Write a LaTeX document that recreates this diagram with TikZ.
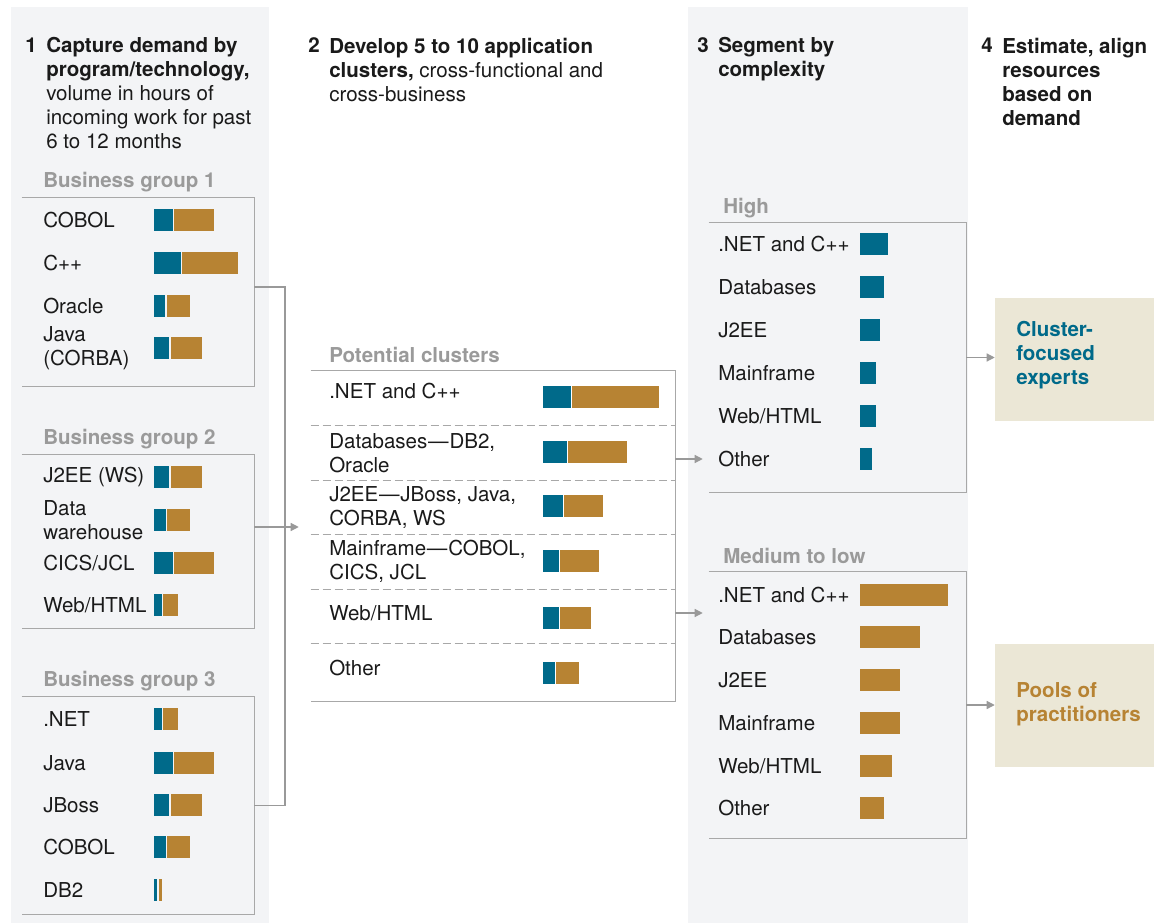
\documentclass[tikz,border=0pt]{standalone}
\usepackage{fontspec}
\setmainfont{TeX Gyre Heros}
\usetikzlibrary{arrows.meta}
\usetikzlibrary{fit}

\definecolor{panelgrey}{HTML}{F3F4F6}
\definecolor{framegrey}{HTML}{A8A8A8}
\definecolor{linkgrey}{HTML}{999999}
\definecolor{labelgrey}{HTML}{9A9A9A}
\definecolor{inkblack}{HTML}{1A1A1A}
\definecolor{demandblue}{HTML}{006A8A}
\definecolor{demandgold}{HTML}{B78333}
\definecolor{notebeige}{HTML}{EBE7D6}

\newcommand\basefont{\fontsize{15.4}{18}\selectfont}

\tikzset{
    heading/.style={anchor=north west, inner sep=0pt, align=left},
    grouplabel/.style={anchor=west, inner sep=0pt, yshift=-1.5pt, text=labelgrey, font=\basefont\bfseries},
    item/.style={anchor=west, inner sep=0pt, align=left},
    outcome/.style={anchor=west, inner sep=0pt, align=left, font=\basefont\bfseries},
    frame/.style={draw=framegrey, line width=0.9pt},
    divider/.style={draw=framegrey, line width=0.75pt, dash pattern=on 6pt off 3pt},
    link/.style={draw=linkgrey, line width=0.9pt},
    flow/.style={link, -{Triangle[length=6pt, width=6pt]}},
}

% fit node with top, right and bottom edges drawn
\newcommand\openframe[3]{%
    \path #2 coordinate (#1-nw) #3 coordinate (#1-se);
    \node[fit=(#1-nw)(#1-se), inner sep=0pt] (#1) {};
    \draw[frame] (#1.north west) -- (#1.north east) -- (#1.south east) -- (#1.south west);
}

% blue share, thin gap, gold share
\newcommand\splitbar[4]{%
    \fill[demandblue] (#1,#2-\barh) rectangle (#3,#2+\barh);
    \fill[demandgold] (#3+1.4,#2-\barh) rectangle (#4,#2+\barh);
}

\newcommand\dashsep{\kern0.6pt\textemdash\kern0.6pt}

\begin{document}
\begin{tikzpicture}[x=0.75pt, y=-0.75pt, every node/.style={font=\basefont, text=inkblack}]

    \def\barh{10.8}

    \useasboundingbox (0,0) rectangle (1167,923);

    % shaded columns
    \fill[panelgrey] (11,7) rectangle (269,923);
    \fill[panelgrey] (688,7) rectangle (968,923);

    % step headings
    \node[heading] (num1) at (25,37.5) {\textbf{1}};
    \node[heading] (step1) at (46,37.5) {\textbf{Capture demand by}\\\textbf{program/technology,}\\volume in hours of\\incoming work for past\\6 to 12 months};
    \node[heading] (num2) at (308,37.5) {\textbf{2}};
    \node[heading] (step2) at (329,37.5) {\textbf{Develop 5 to 10 application}\\\textbf{clusters,} cross-functional and\\cross-business};
    \node[heading] (num3) at (697,37.5) {\textbf{3}};
    \node[heading] (step3) at (718,37.5) {\textbf{Segment by}\\\textbf{complexity}};
    \node[heading] (num4) at (981,37.5) {\textbf{4}};
    \node[heading] (step4) at (1002,37.5) {\textbf{Estimate, align}\\\textbf{resources}\\\textbf{based on}\\\textbf{demand}};

    % business groups
    \node[grouplabel] (bg1-title) at (43,180) {Business group 1};
    \openframe{bg1}{(22,198)}{(254,386)}
    \foreach \lbl/\y/\cut/\stop [count=\i] in {COBOL/220/173/214, C++/263/181/238, Oracle/306/165.3/190, {Java\\(CORBA)}/348/169.3/202}
    {
        \node[item] (bg1-item\i) at (43,\y) {\lbl};
        \splitbar{154}{\y}{\cut}{\stop}
    }

    \node[grouplabel] (bg2-title) at (43,437) {Business group 2};
    \openframe{bg2}{(22,455)}{(254,628)}
    \foreach \lbl/\y/\cut/\stop [count=\i] in {{J2EE (WS)}/477/169.3/202, {Data\\warehouse}/520/166/190, {CICS/JCL}/563/173/214, {Web/HTML}/605/161.7/178}
    {
        \node[item] (bg2-item\i) at (43,\y) {\lbl};
        \splitbar{154}{\y}{\cut}{\stop}
    }

    \node[grouplabel] (bg3-title) at (43,679) {Business group 3};
    \openframe{bg3}{(22,697)}{(254,914)}
    \foreach \lbl/\y/\cut/\stop [count=\i] in {.NET/719/161.7/178, Java/763/173/214, JBoss/805/169.3/202, COBOL/847/166/190, DB2/890/157.3/162}
    {
        \node[item] (bg3-item\i) at (43,\y) {\lbl};
        \splitbar{154}{\y}{\cut}{\stop}
    }

    % potential clusters
    \node[grouplabel] (pc-title) at (329,353) {Potential clusters};
    \openframe{pc}{(311,371)}{(675,701)}
    \foreach \y in {425.7, 480, 534.3, 589, 643.7}
        \draw[divider] (pc.west |- 0,\y) -- (pc.east |- 0,\y);
    \foreach \lbl/\ty/\by/\cut/\stop [count=\i] in {
        {.NET and C++}/391/397/570.7/658.7,
        {Databases\dashsep DB2,\\Oracle}/453/452/567/627,
        {J2EE\dashsep JBoss, Java,\\CORBA, WS}/507.5/506/563/603,
        {Mainframe\dashsep COBOL,\\CICS, JCL}/561.5/561/559/599,
        {Web/HTML}/613/618/559/591,
        Other/668/673/555/579}
    {
        \node[item] (pc-item\i) at (329,\ty) {\lbl};
        \splitbar{543}{\by}{\cut}{\stop}
    }

    % complexity segments
    \node[grouplabel] (hi-title) at (723,206) {High};
    \openframe{hi}{(709,223)}{(966,492)}
    \foreach \lbl/\y/\stop [count=\i] in {{.NET and C++}/244/888, Databases/287/884, J2EE/330/880, Mainframe/373/876, {Web/HTML}/416/876, Other/459/872}
    {
        \node[item] (hi-item\i) at (718,\y) {\lbl};
        \fill[demandblue] (860,\y-\barh) rectangle (\stop,\y+\barh);
    }

    \node[grouplabel] (med-title) at (723,554) {Medium to low};
    \openframe{med}{(709,572)}{(966,838)}
    \foreach \lbl/\y/\stop [count=\i] in {{.NET and C++}/595/948, Databases/637/920, J2EE/680/900, Mainframe/723/900, {Web/HTML}/766/892, Other/808/884}
    {
        \node[item] (med-item\i) at (718,\y) {\lbl};
        \fill[demandgold] (860,\y-\barh) rectangle (\stop,\y+\barh);
    }

    % resourcing outcomes
    \path (995,298) coordinate (experts-nw) (1154,421) coordinate (experts-se);
    \node[fit=(experts-nw)(experts-se), inner sep=0pt, fill=notebeige] (experts) {};
    \node[outcome, text=demandblue] (experts-text) at (1016,355) {Cluster-\\focused\\experts};
    \path (995,644) coordinate (pools-nw) (1154,767) coordinate (pools-se);
    \node[fit=(pools-nw)(pools-se), inner sep=0pt, fill=notebeige] (pools) {};
    \node[outcome, text=demandgold] (pools-text) at (1016,704) {Pools of\\practitioners};

    % connectors
    \coordinate (hub) at (285,527);
    \draw[link] ([yshift=3.75pt]bg1.east) -| (hub) |- (bg3.east);
    \draw[flow, shorten >=9pt] (bg2.east |- hub) -- (pc.west |- hub);
    \draw[flow, shorten >=4.5pt] (hi-item6.west -| pc.east) -- (hi-item6.west -| hi.west);
    \draw[flow, shorten >=4.5pt] (pc-item5.west -| pc.east) -- (pc-item5.west -| med.west);
    \draw[flow] (hi.east) -- (hi.east -| experts.west);
    \draw[flow] (med.east) -- (med.east -| pools.west);

\end{tikzpicture}
\end{document}
